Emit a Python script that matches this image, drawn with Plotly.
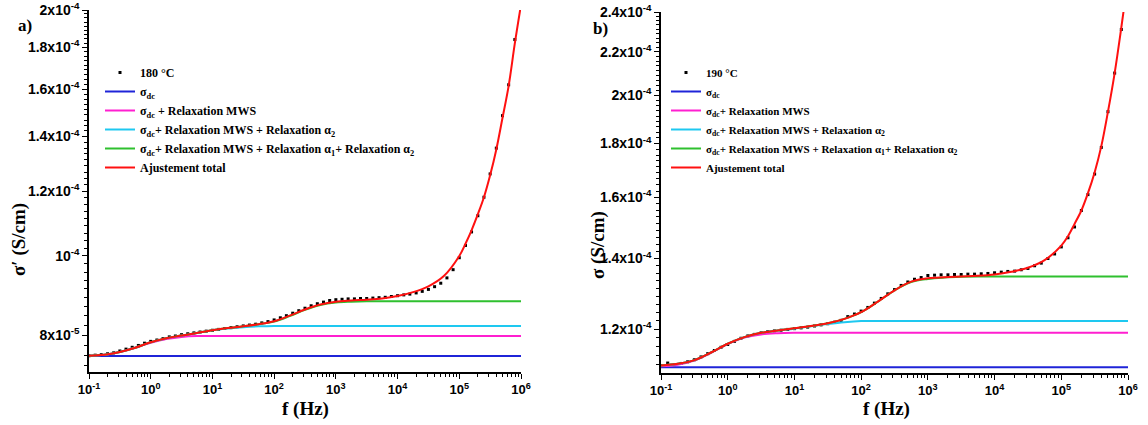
import math
import plotly.graph_objects as go

# ---------------- data ----------------
# measured frequencies (Hz), 10 points per decade
FREQ_DATA = [
    0.1, 0.126, 0.158, 0.2, 0.251, 0.316, 0.398, 0.501, 0.631, 0.794,
    1, 1.26, 1.58, 2, 2.51, 3.16, 3.98, 5.01, 6.31, 7.94,
    10, 12.6, 15.8, 20, 25.1, 31.6, 39.8, 50.1, 63.1, 79.4,
    100, 126, 158, 200, 251, 316, 398, 501, 631, 794,
    1e3, 1.26e3, 1.58e3, 2e3, 2.51e3, 3.16e3, 3.98e3, 5.01e3, 6.31e3, 7.94e3,
    1e4, 1.26e4, 1.58e4, 2e4, 2.51e4, 3.16e4, 3.98e4, 5.01e4, 6.31e4, 7.94e4,
    1e5, 1.26e5, 1.58e5, 2e5, 2.51e5, 3.16e5, 3.98e5, 5.01e5, 6.31e5, 7.94e5,
    1e6,
]

# 180 °C measured sigma' (S/cm)
SIG_180 = [
    7.55e-5, 7.56e-5, 7.57e-5, 7.59e-5, 7.61e-5, 7.65e-5, 7.69e-5, 7.73e-5, 7.77e-5, 7.82e-5,
    7.86e-5, 7.89e-5, 7.92e-5, 7.96e-5, 7.98e-5, 8.01e-5, 8.03e-5, 8.05e-5, 8.07e-5, 8.09e-5,
    8.11e-5, 8.13e-5, 8.15e-5, 8.17e-5, 8.19e-5, 8.21e-5, 8.23e-5, 8.25e-5, 8.28e-5, 8.31e-5,
    8.35e-5, 8.40e-5, 8.45e-5, 8.51e-5, 8.57e-5, 8.63e-5, 8.69e-5, 8.74e-5, 8.78e-5, 8.82e-5,
    8.84e-5, 8.85e-5, 8.86e-5, 8.86e-5, 8.87e-5, 8.87e-5, 8.88e-5, 8.89e-5, 8.90e-5, 8.92e-5,
    8.94e-5, 8.96e-5, 8.98e-5, 9.01e-5, 9.05e-5, 9.10e-5, 9.17e-5, 9.26e-5, 9.40e-5, 9.62e-5,
    9.95e-5, 1.03e-4, 1.07e-4, 1.12e-4, 1.18e-4, 1.26e-4, 1.355e-4, 1.485e-4, 1.62e-4, 1.84e-4,
    2.03e-4,
]

# 190 °C measured sigma (S/cm)
SIG_190 = [
    1.108e-4, 1.114e-4, 1.110e-4, 1.113e-4, 1.117e-4, 1.122e-4, 1.129e-4, 1.137e-4, 1.145e-4, 1.153e-4,
    1.160e-4, 1.168e-4, 1.176e-4, 1.182e-4, 1.186e-4, 1.190e-4, 1.193e-4, 1.195e-4, 1.197e-4, 1.199e-4,
    1.201e-4, 1.203e-4, 1.205e-4, 1.208e-4, 1.211e-4, 1.214e-4, 1.218e-4, 1.223e-4, 1.233e-4, 1.240e-4,
    1.248e-4, 1.258e-4, 1.270e-4, 1.283e-4, 1.296e-4, 1.308e-4, 1.320e-4, 1.330e-4, 1.338e-4, 1.343e-4,
    1.349e-4, 1.350e-4, 1.351e-4, 1.351e-4, 1.352e-4, 1.352e-4, 1.353e-4, 1.353e-4, 1.354e-4, 1.355e-4,
    1.357e-4, 1.359e-4, 1.361e-4, 1.362e-4, 1.366e-4, 1.370e-4, 1.378e-4, 1.386e-4, 1.400e-4, 1.414e-4,
    1.436e-4, 1.465e-4, 1.50e-4, 1.555e-4, 1.61e-4, 1.684e-4, 1.785e-4, 1.93e-4, 2.10e-4, 2.31e-4,
    2.58e-4,
]

# frequencies of the fitted curve
FREQ_FIT = [
    0.1, 0.178, 0.316, 0.562, 1, 1.78, 3.16, 5.62, 10, 17.8, 31.6, 56.2,
    100, 178, 316, 562, 1e3, 1.78e3, 3.16e3, 5.62e3, 1e4, 1.78e4, 3.16e4, 5.62e4,
    1e5, 1.26e5, 1.58e5, 2e5, 2.51e5, 3.16e5, 3.98e5, 5.01e5, 6.31e5, 7.94e5, 1e6,
]
FIT_TOTAL_180 = [
    7.55e-5, 7.57e-5, 7.63e-5, 7.72e-5, 7.84e-5, 7.93e-5, 7.99e-5, 8.05e-5, 8.11e-5, 8.16e-5, 8.20e-5, 8.25e-5,
    8.32e-5, 8.45e-5, 8.60e-5, 8.72e-5, 8.79e-5, 8.82e-5, 8.84e-5, 8.87e-5, 8.93e-5, 9.03e-5, 9.18e-5, 9.45e-5,
    1.00e-4, 1.035e-4, 1.075e-4, 1.125e-4, 1.18e-4, 1.255e-4, 1.35e-4, 1.475e-4, 1.615e-4, 1.82e-4, 2.03e-4,
]
FIT_TOTAL_190 = [
    1.108e-4, 1.112e-4, 1.121e-4, 1.140e-4, 1.162e-4, 1.179e-4, 1.190e-4, 1.196e-4, 1.202e-4, 1.208e-4, 1.215e-4, 1.227e-4,
    1.245e-4, 1.274e-4, 1.306e-4, 1.331e-4, 1.341e-4, 1.344e-4, 1.346e-4, 1.348e-4, 1.352e-4, 1.360e-4, 1.372e-4, 1.395e-4,
    1.440e-4, 1.47e-4, 1.51e-4, 1.555e-4, 1.615e-4, 1.69e-4, 1.79e-4, 1.93e-4, 2.10e-4, 2.32e-4, 2.58e-4,
]

# component curves, 180 °C
FREQ_DC = [0.1, 1e6]
DC_180 = [7.54e-5, 7.54e-5]
FREQ_MWS = [0.1, 0.178, 0.316, 0.562, 1, 1.78, 3.16, 5.62, 10, 17.8, 1e6]
MWS_180 = [7.55e-5, 7.57e-5, 7.63e-5, 7.72e-5, 7.83e-5, 7.91e-5, 7.96e-5, 7.98e-5, 7.98e-5, 7.98e-5, 7.98e-5]
FREQ_A2 = [0.1, 0.178, 0.316, 0.562, 1, 1.78, 3.16, 5.62, 10, 17.8, 31.6, 56.2, 100, 178, 1e6]
A2_180 = [7.55e-5, 7.57e-5, 7.63e-5, 7.72e-5, 7.84e-5, 7.93e-5, 7.99e-5, 8.05e-5, 8.11e-5, 8.15e-5, 8.18e-5,
          8.20e-5, 8.21e-5, 8.21e-5, 8.21e-5]
FREQ_A1A2 = [0.1, 0.178, 0.316, 0.562, 1, 1.78, 3.16, 5.62, 10, 17.8, 31.6, 56.2,
             100, 178, 316, 562, 1e3, 1.78e3, 3.16e3, 5.62e3, 1e6]
A1A2_180 = [7.55e-5, 7.57e-5, 7.63e-5, 7.72e-5, 7.84e-5, 7.93e-5, 7.99e-5, 8.05e-5, 8.11e-5, 8.16e-5, 8.20e-5, 8.25e-5,
            8.31e-5, 8.44e-5, 8.59e-5, 8.71e-5, 8.77e-5, 8.79e-5, 8.80e-5, 8.80e-5, 8.80e-5]

# component curves, 190 °C
DC_190 = [1.104e-4, 1.104e-4]
MWS_190 = [1.106e-4, 1.110e-4, 1.120e-4, 1.139e-4, 1.161e-4, 1.178e-4, 1.186e-4, 1.189e-4, 1.190e-4, 1.190e-4, 1.190e-4]
A2_190 = [1.108e-4, 1.112e-4, 1.121e-4, 1.140e-4, 1.162e-4, 1.179e-4, 1.190e-4, 1.196e-4, 1.201e-4, 1.207e-4, 1.213e-4,
          1.218e-4, 1.221e-4, 1.221e-4, 1.221e-4]
A1A2_190 = [1.108e-4, 1.112e-4, 1.121e-4, 1.140e-4, 1.162e-4, 1.179e-4, 1.190e-4, 1.196e-4, 1.202e-4, 1.208e-4, 1.215e-4, 1.227e-4,
            1.245e-4, 1.274e-4, 1.306e-4, 1.330e-4, 1.339e-4, 1.343e-4, 1.345e-4, 1.346e-4, 1.346e-4]

# tick labels
X_TICKS = [0.1, 1, 10, 100, 1e3, 1e4, 1e5, 1e6]
X_TICKTEXT = ["10<sup>-1</sup>", "10<sup>0</sup>", "10<sup>1</sup>", "10<sup>2</sup>",
              "10<sup>3</sup>", "10<sup>4</sup>", "10<sup>5</sup>", "10<sup>6</sup>"]
YA_TICKS = [8e-5, 1e-4, 1.2e-4, 1.4e-4, 1.6e-4, 1.8e-4, 2e-4]
YA_TICKTEXT = ["8x10<sup>-5</sup>", "10<sup>-4</sup>", "1.2x10<sup>-4</sup>", "1.4x10<sup>-4</sup>",
               "1.6x10<sup>-4</sup>", "1.8x10<sup>-4</sup>", "2x10<sup>-4</sup>"]
YB_TICKS = [1.2e-4, 1.4e-4, 1.6e-4, 1.8e-4, 2e-4, 2.2e-4, 2.4e-4]
YB_TICKTEXT = ["1.2x10<sup>-4</sup>", "1.4x10<sup>-4</sup>", "1.6x10<sup>-4</sup>", "1.8x10<sup>-4</sup>",
               "2x10<sup>-4</sup>", "2.2x10<sup>-4</sup>", "2.4x10<sup>-4</sup>"]

LABELS_A = ["180 °C", "σ<sub>dc</sub>", "σ<sub>dc</sub> + Relaxation MWS",
            "σ<sub>dc</sub>+ Relaxation MWS + Relaxation α<sub>2</sub>",
            "σ<sub>dc</sub>+ Relaxation MWS + Relaxation α<sub>1</sub>+ Relaxation α<sub>2</sub>",
            "Ajustement total"]
LABELS_B = ["190 °C", "σ<sub>dc</sub>", "σ<sub>dc</sub>+ Relaxation MWS",
            "σ<sub>dc</sub>+ Relaxation MWS + Relaxation α<sub>2</sub>",
            "σ<sub>dc</sub>+ Relaxation MWS + Relaxation α<sub>1</sub>+ Relaxation α<sub>2</sub>",
            "Ajustement total"]

# ---------------- style ----------------
W, H = 1148, 425
C_BLUE = "#1f24d8"
C_MAG = "#ff1fd0"
C_CYAN = "#1ec8f0"
C_GREEN = "#2fc02f"
C_RED = "#ff1010"
SANS = "Liberation Sans"
SERIF = "Liberation Serif"

fig = go.Figure()


def add_panel(xa, ya, leg, labels, sig, dc, mws, a2, a1a2, tot):
    common = dict(xaxis=xa, yaxis=ya, legend=leg)
    fig.add_trace(go.Scatter(x=FREQ_DATA, y=sig, mode="markers", name=labels[0],
                             marker=dict(symbol="square", size=3, color="black"), **common))
    line_kw = dict(mode="lines", line_shape="spline")
    fig.add_trace(go.Scatter(x=FREQ_DC, y=dc, name=labels[1], line=dict(color=C_BLUE, width=2), **line_kw, **common))
    fig.add_trace(go.Scatter(x=FREQ_MWS, y=mws, name=labels[2], line=dict(color=C_MAG, width=2), **line_kw, **common))
    fig.add_trace(go.Scatter(x=FREQ_A2, y=a2, name=labels[3], line=dict(color=C_CYAN, width=2), **line_kw, **common))
    fig.add_trace(go.Scatter(x=FREQ_A1A2, y=a1a2, name=labels[4], line=dict(color=C_GREEN, width=2), **line_kw, **common))
    fig.add_trace(go.Scatter(x=FREQ_FIT, y=tot, name=labels[5], line=dict(color=C_RED, width=2), **line_kw, **common))


add_panel("x", "y", "legend", LABELS_A, SIG_180, DC_180, MWS_180, A2_180, A1A2_180, FIT_TOTAL_180)
add_panel("x2", "y2", "legend2", LABELS_B, SIG_190, DC_190, MWS_190, A2_190, A1A2_190, FIT_TOTAL_190)

# minor tick positions (axis decoration only)
x_minor = [m * 10 ** e for e in range(-1, 6) for m in range(2, 10)]


def y_minor(majors, extra_below=0):
    out = []
    for lo, hi in zip(majors[:-1], majors[1:]):
        step = (hi - lo) / 9
        out += [lo + k * step for k in range(1, 9)]
    step = (majors[1] - majors[0]) / 9
    out += [majors[0] - k * step for k in range(1, extra_below + 1)]
    return out


xtickfont = dict(family=SANS, size=13, color="black", weight="bold")
ytickfont = dict(family=SANS, size=14, color="black", weight="bold")
base = dict(type="log", showgrid=False, zeroline=False, automargin=False, ticks="outside", tickcolor="black")


def minor(vals):
    return dict(tickmode="array", tickvals=vals, ticks="outside", ticklen=3, tickwidth=1,
                tickcolor="black", showgrid=False)


xmajor = dict(range=[-1, 6], showline=True, linecolor="black", linewidth=1.5,
              ticklen=5, tickwidth=1.3, tickvals=X_TICKS, ticktext=X_TICKTEXT, tickfont=xtickfont,
              minor=minor(x_minor), **base)
ymajor = dict(showline=True, linecolor="black", linewidth=1.5, ticklen=5, tickwidth=1.3,
              tickfont=ytickfont, **base)

YA_RANGE = [math.log10(7.21e-5), math.log10(2e-4)]
YB_RANGE = [math.log10(1.09e-4), math.log10(2.4e-4)]

fig.update_layout(
    template="none",
    width=W, height=H,
    margin=dict(l=0, r=0, t=0, b=0, autoexpand=False),
    paper_bgcolor="white", plot_bgcolor="white",
    xaxis=dict(domain=[89 / W, 521 / W], anchor="y", **xmajor),
    yaxis=dict(domain=[1 - 372 / H, 1 - 10 / H], anchor="x", range=YA_RANGE,
               tickvals=YA_TICKS, ticktext=YA_TICKTEXT, minor=minor(y_minor(YA_TICKS, 4)), **ymajor),
    xaxis2=dict(domain=[661 / W, 1128 / W], anchor="y2", **xmajor),
    yaxis2=dict(domain=[1 - 373 / H, 1 - 12 / H], anchor="x2", range=YB_RANGE,
                tickvals=YB_TICKS, ticktext=YB_TICKTEXT, minor=minor(y_minor(YB_TICKS, 5)), **ymajor),
    legend=dict(x=100 / W, y=1 - 58 / H, xanchor="left", yanchor="top",
                bgcolor="rgba(0,0,0,0)", borderwidth=0, itemwidth=30,
                font=dict(family=SERIF, size=12, color="black", weight="bold"), tracegroupgap=0),
    legend2=dict(x=666 / W, y=1 - 58 / H, xanchor="left", yanchor="top",
                 bgcolor="rgba(0,0,0,0)", borderwidth=0, itemwidth=30,
                 font=dict(family=SERIF, size=11, color="black", weight="bold"), tracegroupgap=0),
    showlegend=True,
    hovermode=False,
)

ann_font_title = dict(family=SERIF, size=19, color="black", weight="bold")
annotations = [
    dict(text="a)", x=25 / W, y=1 - 26 / H, font=dict(family=SERIF, size=17, color="black", weight="bold")),
    dict(text="b)", x=600 / W, y=1 - 28 / H, font=dict(family=SERIF, size=17, color="black", weight="bold")),
    dict(text="f (Hz)", x=305 / W, y=1 - 409 / H, font=ann_font_title),
    dict(text="f (Hz)", x=886 / W, y=1 - 409 / H, font=ann_font_title),
    dict(text="σ′ (S/cm)", x=19 / W, y=1 - 240 / H, textangle=-90, font=ann_font_title),
    dict(text="σ (S/cm)", x=598 / W, y=1 - 245 / H, textangle=-90, font=ann_font_title),
]
for a in annotations:
    a.update(xref="paper", yref="paper", showarrow=False, xanchor="center", yanchor="middle")
fig.update_layout(annotations=annotations)

fig.write_html("out.html", config={"displayModeBar": False},
               post_script="document.body.style.margin='0px';")
